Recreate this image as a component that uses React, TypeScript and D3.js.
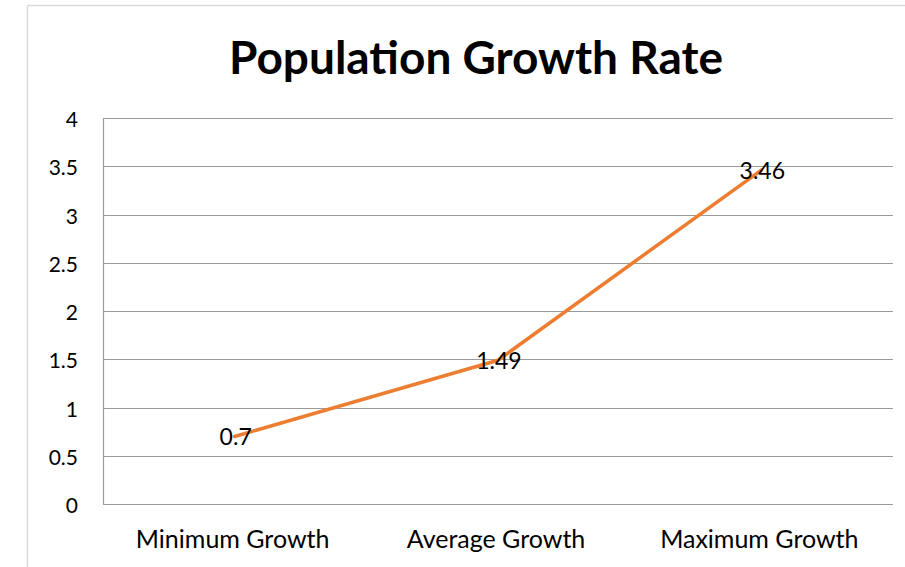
import React, { useEffect, useRef } from "react";
import * as d3 from "d3";

const categories: string[] = ["Minimum Growth", "Average Growth", "Maximum Growth"];
const growthValues: number[] = [0.7, 1.49, 3.46];
const yTicks: number[] = [0, 0.5, 1, 1.5, 2, 2.5, 3, 3.5, 4];
const titleText = "Population Growth Rate";

const W = 905;
const H = 567;
const FONT = "Lato, 'Open Sans', sans-serif";

export default function App() {
  const ref = useRef<SVGSVGElement | null>(null);

  useEffect(() => {
    document.body.style.margin = "0";
    const svg = d3.select(ref.current);
    svg.selectAll("*").remove();

    const plotLeft = 103;
    const plotRight = 893;
    const plotTop = 118;
    const plotBottom = 504;

    const x = d3.scaleBand<string>().domain(categories).range([plotLeft, plotRight]);
    const y = d3.scaleLinear().domain([0, 4]).range([plotBottom, plotTop]);

    svg.append("rect").attr("width", W).attr("height", H).attr("fill", "#fff");

    // chart border
    svg.append("line").attr("x1", 27.5).attr("x2", W).attr("y1", 5.5).attr("y2", 5.5)
      .attr("stroke", "#d9d9d9").attr("stroke-width", 1.5);
    svg.append("line").attr("x1", 27.5).attr("x2", 27.5).attr("y1", 5.5).attr("y2", H)
      .attr("stroke", "#d9d9d9").attr("stroke-width", 1.5);

    // title
    svg.append("text").attr("x", 476).attr("y", 74).attr("text-anchor", "middle")
      .attr("font-family", FONT).attr("font-weight", 700).attr("font-size", 46)
      .attr("fill", "#000").text(titleText);

    // gridlines
    svg.append("g").selectAll("line").data(yTicks).join("line")
      .attr("x1", plotLeft).attr("x2", plotRight)
      .attr("y1", (d) => Math.round(y(d)) + 0.5).attr("y2", (d) => Math.round(y(d)) + 0.5)
      .attr("stroke", "#9a9a9a").attr("stroke-width", 1.2);

    // y axis line
    svg.append("line").attr("x1", plotLeft + 0.5).attr("x2", plotLeft + 0.5)
      .attr("y1", plotTop).attr("y2", plotBottom + 0.5)
      .attr("stroke", "#9a9a9a").attr("stroke-width", 1.2);

    // y tick labels
    svg.append("g").selectAll("text").data(yTicks).join("text")
      .attr("x", 78).attr("y", (d) => y(d) + 9)
      .attr("text-anchor", "end").attr("font-family", FONT).attr("font-size", 21)
      .attr("fill", "#000").text((d) => String(d));

    // x labels
    svg.append("g").selectAll("text").data(categories).join("text")
      .attr("x", (d) => (x(d) as number) + x.bandwidth() / 2 - 2)
      .attr("y", 548)
      .attr("text-anchor", "middle").attr("font-family", FONT).attr("font-size", 25)
      .attr("fill", "#000").text((d) => d);

    // line
    const pts = categories.map((c, i) => [(x(c) as number) + x.bandwidth() / 2, y(growthValues[i])] as [number, number]);
    svg.append("path").attr("d", d3.line()(pts))
      .attr("fill", "none").attr("stroke", "#ED7D31").attr("stroke-width", 3.5)
      .attr("stroke-linejoin", "round").attr("stroke-linecap", "round");

    // data labels
    svg.append("g").selectAll("text").data(growthValues).join("text")
      .attr("x", (d, i) => pts[i][0] + 1)
      .attr("y", (d, i) => pts[i][1] + 9)
      .attr("text-anchor", "middle").attr("font-family", FONT).attr("font-size", 23)
      .attr("fill", "#000").text((d) => String(d));
  }, []);

  return (
    <svg ref={ref} width={W} height={H} style={{ display: "block", position: "absolute", left: 0, top: 0 }} />
  );
}
